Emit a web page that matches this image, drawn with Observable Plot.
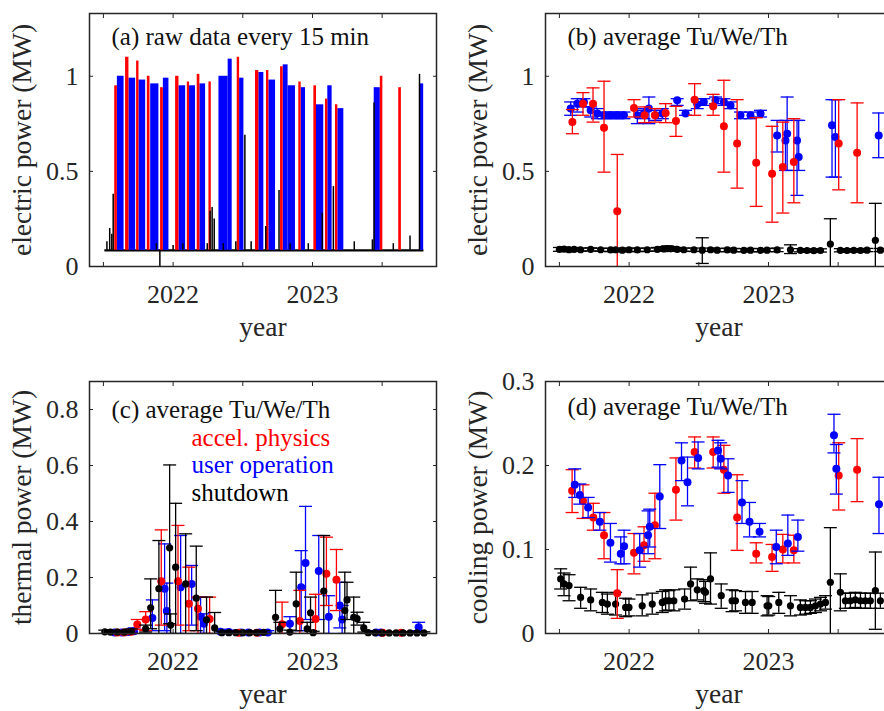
<!DOCTYPE html>
<html><head><meta charset="utf-8">
<script src="https://cdn.jsdelivr.net/npm/d3@7"></script>
<script src="https://cdn.jsdelivr.net/npm/@observablehq/plot@0.6"></script>
<style>
html,body{margin:0;padding:0;background:#fff;}
#fig{position:relative;width:884px;height:711px;overflow:hidden;background:#fff;}
#fig > svg{position:absolute;}
</style></head><body><div id="fig"></div>
<script>
// ---------- axes / labels ----------
const yearTicks = [2021.5, 2022, 2022.5, 2023, 2023.5];
const yearLabels = [2022, 2023];
const ticksElectric = [0, 0.5, 1];
const ticksThermal = [0, 0.2, 0.4, 0.6, 0.8];
const ticksCooling = [0, 0.1, 0.2, 0.3];
const titleA = "(a) raw data every 15 min";
const titleB = "(b) average Tu/We/Th";
const titleC = "(c) average Tu/We/Th";
const titleD = "(d) average Tu/We/Th";
const legendLabels = ["accel. physics", "user operation", "shutdown"];
const ylabelElectric = "electric power (MW)";
const ylabelThermal = "thermal power (MW)";
const ylabelCooling = "cooling power (MW)";
const xlabel = "year";

// ---------- (a) raw data: operation blocks [start, end, peak, mode] ----------
const rawBase = 0.085;
const rawSpan = [2021.51, 2023.80];
const rawBlocks = [
 [2021.581, 2021.600, 0.95, "accel"], [2021.600, 2021.648, 1.00, "user"],
 [2021.659, 2021.683, 1.10, "accel"], [2021.683, 2021.731, 0.99, "user"],
 [2021.738, 2021.755, 1.08, "accel"], [2021.755, 2021.803, 0.98, "user"],
 [2021.815, 2021.834, 1.00, "accel"], [2021.839, 2021.898, 0.96, "user"],
 [2021.910, 2021.930, 0.94, "accel"], [2021.930, 2021.970, 0.99, "user"],
 [2022.018, 2022.042, 1.00, "accel"], [2022.042, 2022.090, 0.95, "user"],
 [2022.102, 2022.118, 0.97, "accel"], [2022.118, 2022.161, 0.95, "user"],
 [2022.173, 2022.192, 1.01, "accel"], [2022.192, 2022.233, 0.96, "user"],
 [2022.257, 2022.274, 0.97, "accel"], [2022.329, 2022.395, 1.00, "user"],
 [2022.395, 2022.424, 1.09, "user"],  [2022.460, 2022.477, 1.10, "accel"],
 [2022.477, 2022.508, 0.99, "user"],  [2022.591, 2022.615, 1.03, "accel"],
 [2022.615, 2022.651, 1.02, "user"],  [2022.670, 2022.687, 1.03, "accel"],
 [2022.687, 2022.735, 0.98, "user"],  [2022.771, 2022.790, 1.05, "accel"],
 [2022.790, 2022.825, 1.06, "user"],  [2022.825, 2022.878, 0.95, "user"],
 [2022.902, 2022.919, 0.97, "accel"], [2022.919, 2022.950, 0.94, "user"],
 [2023.010, 2023.029, 0.95, "accel"], [2023.029, 2023.081, 0.85, "user"],
 [2023.093, 2023.110, 0.88, "accel"], [2023.110, 2023.141, 0.95, "user"],
 [2023.165, 2023.182, 0.85, "accel"], [2023.182, 2023.225, 0.83, "user"],
 [2023.443, 2023.487, 0.94, "user"],  [2023.487, 2023.505, 1.00, "accel"],
 [2023.619, 2023.638, 0.94, "accel"], [2023.772, 2023.798, 0.96, "user"]
];
// shutdown spikes [time, value]
const rawSpikes = [
 [2021.525, 0.13], [2021.545, 0.20], [2021.560, 0.17], [2021.570, 0.38], [2021.880, 0.12],
 [2021.905, 0.00], [2022.000, 0.11], [2022.070, 0.12], [2022.245, 0.12], [2022.265, 0.29],
 [2022.280, 0.31], [2022.295, 0.25], [2022.360, 0.12], [2022.450, 0.13], [2022.515, 0.69],
 [2022.560, 0.13], [2022.665, 0.21], [2022.760, 0.40], [2022.840, 0.12], [2022.970, 0.12],
 [2023.070, 0.28], [2023.150, 0.42], [2023.300, 0.13], [2023.430, 0.14], [2023.442, 0.86],
 [2023.580, 0.12], [2023.700, 0.16], [2023.768, 1.01]
];

// ---------- (b) electric, averages [time, value, low, high] ----------
const bAccel = [
 [2021.593, 0.759, 0.698, 0.825], [2021.669, 0.856, 0.795, 0.914], [2021.741, 0.856, 0.759, 0.939],
 [2021.820, 0.730, 0.496, 0.974], [2021.915, 0.291, -0.05, 0.589], [2022.035, 0.833, 0.786, 0.877],
 [2022.111, 0.795, 0.756, 0.839], [2022.185, 0.795, 0.759, 0.830], [2022.262, 0.807, 0.756, 0.856],
 [2022.336, 0.765, 0.684, 0.842], [2022.470, 0.877, 0.795, 0.961], [2022.603, 0.842, 0.795, 0.905],
 [2022.680, 0.737, 0.496, 0.979], [2022.775, 0.646, 0.412, 0.877], [2022.912, 0.546, 0.316, 0.782],
 [2023.026, 0.488, 0.233, 0.737], [2023.103, 0.523, 0.281, 0.759], [2023.182, 0.549, 0.335, 0.777],
 [2023.504, 0.646, 0.403, 0.877], [2023.636, 0.598, 0.335, 0.860]
];
const bUser = [
 [2021.581, 0.830, 0.795, 0.865], [2021.628, 0.856, 0.812, 0.882], [2021.676, 0.865, 0.839, 0.882],
 [2021.724, 0.821, 0.786, 0.839], [2021.772, 0.804, 0.777, 0.830], [2021.820, 0.795, 0.777, 0.812],
 [2021.867, 0.795, 0.777, 0.812], [2021.915, 0.795, 0.777, 0.812], [2021.963, 0.795, 0.777, 0.812],
 [2022.059, 0.795, 0.751, 0.821], [2022.106, 0.804, 0.777, 0.830], [2022.142, 0.830, 0.751, 0.891],
 [2022.190, 0.795, 0.768, 0.821], [2022.238, 0.804, 0.777, 0.830], [2022.345, 0.874, 0.847, 0.882],
 [2022.405, 0.804, 0.795, 0.821], [2022.489, 0.853, 0.830, 0.882], [2022.536, 0.865, 0.847, 0.882],
 [2022.620, 0.874, 0.856, 0.891], [2022.680, 0.865, 0.847, 0.882], [2022.728, 0.847, 0.830, 0.865],
 [2022.799, 0.795, 0.777, 0.812], [2022.871, 0.795, 0.777, 0.812], [2022.943, 0.804, 0.786, 0.821],
 [2023.062, 0.689, 0.602, 0.768], [2023.122, 0.663, 0.505, 0.768], [2023.134, 0.698, 0.505, 0.891],
 [2023.205, 0.663, 0.374, 0.768], [2023.217, 0.575, 0.505, 0.768], [2023.456, 0.742, 0.470, 0.877],
 [2023.480, 0.681, 0.470, 0.877], [2023.791, 0.689, 0.572, 0.807]
];
const bShutdown = [
 [2021.500, 0.090, 0.080, 0.100], [2021.533, 0.092, 0.082, 0.102], [2021.569, 0.088, 0.078, 0.098],
 [2021.605, 0.090, 0.080, 0.100], [2021.652, 0.088, 0.080, 0.097], [2021.724, 0.090, 0.082, 0.098],
 [2021.796, 0.088, 0.080, 0.096], [2021.867, 0.087, 0.078, 0.096], [2021.903, 0.088, 0.079, 0.097],
 [2021.951, 0.086, 0.077, 0.095], [2021.999, 0.088, 0.079, 0.097], [2022.059, 0.087, 0.078, 0.096],
 [2022.130, 0.088, 0.080, 0.097], [2022.202, 0.090, 0.081, 0.100], [2022.250, 0.092, 0.082, 0.104],
 [2022.274, 0.094, 0.082, 0.108], [2022.298, 0.093, 0.082, 0.105], [2022.345, 0.090, 0.081, 0.100],
 [2022.393, 0.088, 0.080, 0.097], [2022.465, 0.088, 0.079, 0.097], [2022.525, 0.086, 0.016, 0.151],
 [2022.584, 0.088, 0.080, 0.097], [2022.632, 0.086, 0.078, 0.095], [2022.704, 0.087, 0.078, 0.096],
 [2022.751, 0.086, 0.078, 0.095], [2022.823, 0.085, 0.077, 0.094], [2022.871, 0.086, 0.078, 0.095],
 [2022.943, 0.085, 0.077, 0.094], [2022.990, 0.086, 0.078, 0.095], [2023.062, 0.087, 0.078, 0.097],
 [2023.158, 0.088, 0.068, 0.114], [2023.229, 0.085, 0.077, 0.094], [2023.277, 0.084, 0.076, 0.093],
 [2023.325, 0.083, 0.075, 0.092], [2023.373, 0.084, 0.076, 0.093], [2023.444, 0.118, -0.02, 0.251],
 [2023.516, 0.085, 0.077, 0.094], [2023.564, 0.084, 0.076, 0.093], [2023.612, 0.085, 0.077, 0.094],
 [2023.660, 0.084, 0.076, 0.093], [2023.707, 0.086, 0.078, 0.095], [2023.767, 0.138, -0.02, 0.332],
 [2023.803, 0.086, 0.078, 0.095]
];

// ---------- (c) thermal ----------
const cAccel = [
 [2021.600, 0.004, 0.000, 0.010], [2021.650, 0.004, 0.000, 0.010], [2021.700, 0.006, 0.000, 0.014],
 [2021.743, 0.032, 0.015, 0.050], [2021.803, 0.050, 0.010, 0.078], [2021.915, 0.187, 0.030, 0.370],
 [2022.035, 0.187, 0.030, 0.386], [2022.113, 0.106, 0.010, 0.237], [2022.178, 0.088, 0.000, 0.130],
 [2022.262, 0.052, 0.000, 0.130], [2022.470, 0.003, 0.000, 0.008], [2022.600, 0.003, 0.000, 0.008],
 [2022.782, 0.033, 0.000, 0.112], [2022.909, 0.045, 0.000, 0.154], [2023.022, 0.052, 0.000, 0.140],
 [2023.100, 0.213, 0.100, 0.344], [2023.172, 0.192, 0.082, 0.300], [2023.504, 0.003, 0.000, 0.007],
 [2023.636, 0.003, 0.000, 0.007]
];
const cUser = [
 [2021.580, 0.004, 0.000, 0.010], [2021.630, 0.004, 0.000, 0.010], [2021.680, 0.005, 0.000, 0.012],
 [2021.720, 0.008, 0.000, 0.020], [2021.851, 0.055, 0.010, 0.120], [2021.939, 0.160, 0.010, 0.320],
 [2021.955, 0.080, 0.000, 0.180], [2022.054, 0.165, 0.000, 0.350], [2022.133, 0.177, 0.030, 0.243],
 [2022.197, 0.060, 0.000, 0.130], [2022.221, 0.035, 0.000, 0.070], [2022.340, 0.006, 0.000, 0.015],
 [2022.400, 0.005, 0.000, 0.012], [2022.490, 0.004, 0.000, 0.010], [2022.540, 0.004, 0.000, 0.010],
 [2022.620, 0.004, 0.000, 0.010], [2022.680, 0.004, 0.000, 0.010], [2022.838, 0.035, 0.000, 0.060],
 [2022.919, 0.165, 0.010, 0.296], [2022.950, 0.252, 0.050, 0.454], [2023.045, 0.223, 0.050, 0.350],
 [2023.117, 0.060, 0.000, 0.135], [2023.196, 0.100, 0.020, 0.183], [2023.213, 0.050, 0.000, 0.100],
 [2023.456, 0.004, 0.000, 0.010], [2023.490, 0.004, 0.000, 0.010], [2023.762, 0.022, 0.010, 0.040]
];
const cShutdown = [
 [2021.510, 0.006, 0.000, 0.012], [2021.550, 0.005, 0.000, 0.011], [2021.600, 0.005, 0.000, 0.010],
 [2021.650, 0.005, 0.000, 0.010], [2021.700, 0.008, 0.000, 0.016], [2021.803, 0.017, 0.005, 0.030],
 [2021.839, 0.092, 0.017, 0.195], [2021.898, 0.160, 0.000, 0.332], [2021.975, 0.306, 0.035, 0.602],
 [2021.982, 0.030, 0.000, 0.070], [2022.018, 0.237, 0.000, 0.465], [2022.090, 0.177, 0.000, 0.356],
 [2022.166, 0.126, 0.010, 0.312], [2022.240, 0.049, 0.000, 0.130], [2022.298, 0.020, 0.000, 0.075],
 [2022.350, 0.003, 0.000, 0.008], [2022.400, 0.003, 0.000, 0.008], [2022.450, 0.003, 0.000, 0.008],
 [2022.500, 0.003, 0.000, 0.008], [2022.550, 0.003, 0.000, 0.008], [2022.600, 0.003, 0.000, 0.008],
 [2022.650, 0.004, 0.000, 0.010], [2022.735, 0.058, 0.000, 0.154], [2022.766, 0.017, 0.000, 0.040],
 [2022.838, 0.005, 0.000, 0.012], [2022.883, 0.106, 0.010, 0.219], [2022.962, 0.017, 0.000, 0.040],
 [2022.986, 0.074, 0.010, 0.130], [2023.005, 0.003, 0.000, 0.008], [2023.081, 0.151, 0.000, 0.350],
 [2023.232, 0.082, 0.000, 0.219], [2023.248, 0.120, 0.050, 0.183], [2023.296, 0.058, 0.000, 0.130],
 [2023.320, 0.053, 0.030, 0.076], [2023.368, 0.020, 0.005, 0.040], [2023.400, 0.003, 0.000, 0.008],
 [2023.450, 0.003, 0.000, 0.008], [2023.500, 0.002, 0.000, 0.006], [2023.550, 0.002, 0.000, 0.006],
 [2023.600, 0.002, 0.000, 0.006], [2023.650, 0.002, 0.000, 0.006], [2023.700, 0.002, 0.000, 0.006],
 [2023.750, 0.002, 0.000, 0.006], [2023.800, 0.002, 0.000, 0.006]
];

// ---------- (d) cooling ----------
const dAccel = [
 [2021.591, 0.170, 0.144, 0.195], [2021.669, 0.158, 0.137, 0.177], [2021.743, 0.138, 0.123, 0.155],
 [2021.820, 0.117, 0.089, 0.144], [2021.915, 0.048, 0.018, 0.076], [2022.035, 0.096, 0.071, 0.119],
 [2022.107, 0.105, 0.086, 0.127], [2022.185, 0.129, 0.089, 0.167], [2022.336, 0.171, 0.135, 0.209],
 [2022.470, 0.216, 0.197, 0.234], [2022.603, 0.216, 0.197, 0.234], [2022.680, 0.195, 0.167, 0.224],
 [2022.775, 0.138, 0.099, 0.189], [2022.912, 0.095, 0.084, 0.108], [2023.026, 0.091, 0.074, 0.106],
 [2023.103, 0.100, 0.084, 0.118], [2023.182, 0.099, 0.084, 0.117], [2023.504, 0.188, 0.147, 0.227],
 [2023.636, 0.195, 0.157, 0.232]
];
const dUser = [
 [2021.610, 0.177, 0.162, 0.196], [2021.646, 0.165, 0.154, 0.178], [2021.706, 0.150, 0.138, 0.162],
 [2021.790, 0.133, 0.123, 0.144], [2021.866, 0.108, 0.085, 0.131], [2021.940, 0.095, 0.083, 0.115],
 [2021.964, 0.104, 0.083, 0.123], [2022.076, 0.099, 0.079, 0.119], [2022.136, 0.117, 0.095, 0.146],
 [2022.148, 0.127, 0.103, 0.148], [2022.220, 0.163, 0.125, 0.201], [2022.376, 0.206, 0.182, 0.227],
 [2022.419, 0.180, 0.152, 0.210], [2022.495, 0.209, 0.196, 0.228], [2022.638, 0.218, 0.198, 0.230],
 [2022.657, 0.208, 0.196, 0.227], [2022.710, 0.188, 0.168, 0.208], [2022.810, 0.156, 0.131, 0.182],
 [2022.864, 0.133, 0.115, 0.156], [2022.936, 0.121, 0.115, 0.131], [2023.056, 0.103, 0.083, 0.123],
 [2023.139, 0.107, 0.093, 0.141], [2023.211, 0.115, 0.098, 0.135], [2023.470, 0.236, 0.215, 0.261],
 [2023.487, 0.196, 0.166, 0.225], [2023.793, 0.154, 0.119, 0.186]
];
const dShutdown = [
 [2021.509, 0.065, 0.053, 0.077], [2021.533, 0.059, 0.045, 0.072], [2021.569, 0.057, 0.039, 0.070],
 [2021.652, 0.043, 0.030, 0.055], [2021.724, 0.040, 0.027, 0.053], [2021.808, 0.037, 0.025, 0.049],
 [2021.844, 0.035, 0.023, 0.047], [2021.903, 0.035, 0.022, 0.049], [2021.975, 0.031, 0.020, 0.042],
 [2021.999, 0.031, 0.021, 0.041], [2022.094, 0.033, 0.021, 0.046], [2022.166, 0.035, 0.023, 0.048],
 [2022.238, 0.037, 0.025, 0.050], [2022.262, 0.039, 0.027, 0.052], [2022.286, 0.039, 0.028, 0.051],
 [2022.321, 0.039, 0.027, 0.052], [2022.398, 0.041, 0.029, 0.053], [2022.441, 0.059, 0.039, 0.079],
 [2022.489, 0.052, 0.040, 0.065], [2022.536, 0.051, 0.038, 0.064], [2022.548, 0.049, 0.036, 0.062],
 [2022.584, 0.065, 0.035, 0.096], [2022.661, 0.045, 0.030, 0.059], [2022.739, 0.039, 0.026, 0.052],
 [2022.763, 0.039, 0.027, 0.051], [2022.835, 0.037, 0.024, 0.050], [2022.883, 0.037, 0.024, 0.050],
 [2022.990, 0.033, 0.021, 0.045], [2023.002, 0.033, 0.022, 0.044], [2023.074, 0.037, 0.024, 0.049],
 [2023.158, 0.033, 0.021, 0.045], [2023.229, 0.031, 0.022, 0.040], [2023.265, 0.031, 0.023, 0.039],
 [2023.301, 0.031, 0.024, 0.039], [2023.337, 0.033, 0.025, 0.041], [2023.373, 0.035, 0.027, 0.043],
 [2023.409, 0.037, 0.029, 0.045], [2023.444, 0.061, -0.010, 0.126], [2023.516, 0.049, 0.027, 0.071],
 [2023.552, 0.039, 0.030, 0.048], [2023.588, 0.039, 0.030, 0.048], [2023.623, 0.040, 0.031, 0.049],
 [2023.660, 0.039, 0.030, 0.048], [2023.695, 0.039, 0.030, 0.048], [2023.731, 0.039, 0.030, 0.048],
 [2023.767, 0.051, 0.005, 0.097], [2023.803, 0.039, 0.030, 0.048]
];

// ---------- styling ----------
const FONT = "'Liberation Serif', 'Times New Roman', serif";
const AX = "#262626";
const RED = "#ff0000", BLUE = "#0000ff", BLACK = "#000000";
const xDomain = [2021.40, 2023.89];

const capSymbol = {draw(ctx, size) { const w = Math.sqrt(size / Math.PI); ctx.moveTo(-w, 0); ctx.lineTo(w, 0); }};
const rows = arr => arr.map(([t, v, lo, hi]) => ({t, v, lo, hi}));

function errMarks(arr, color, r = 4) {
  const data = rows(arr);
  return [
    Plot.ruleX(data, {x: "t", y1: "lo", y2: "hi", stroke: color, strokeWidth: 1.3, clip: true}),
    Plot.dot(data, {x: "t", y: "lo", r: 6.5, symbol: capSymbol, stroke: color, fill: "none", strokeWidth: 1.3, clip: true}),
    Plot.dot(data, {x: "t", y: "hi", r: 6.5, symbol: capSymbol, stroke: color, fill: "none", strokeWidth: 1.3, clip: true}),
    Plot.dot(data, {x: "t", y: "v", r, fill: color, stroke: "none"})
  ];
}

function panel({left, top, height, marginTop, marginBottom, yDomain, yTicks, ylabel, title, titleDy, marks, extra = []}) {
  const svg = Plot.plot({
    width: 442, height, marginLeft: 89, marginRight: 6, marginTop, marginBottom,
    x: {domain: xDomain, label: null},
    y: {domain: yDomain, label: null},
    style: {fontFamily: FONT, fontSize: "25px", color: AX, background: "transparent", overflow: "visible"},
    marks: [
      ...marks,
      Plot.frame({stroke: AX, strokeWidth: 1.5}),
      Plot.axisX({anchor: "bottom", ticks: yearTicks, tickSize: 4, dy: -4, tickFormat: () => "", label: null, stroke: AX}),
      Plot.axisX({anchor: "top", ticks: yearTicks, tickSize: 4, dy: 4, tickFormat: () => "", label: null, stroke: AX}),
      Plot.axisY({anchor: "left", ticks: yTicks, tickSize: 4, dx: 4, tickFormat: () => "", label: null, stroke: AX}),
      Plot.axisY({anchor: "right", ticks: yTicks, tickSize: 4, dx: -4, tickFormat: () => "", label: null, stroke: AX}),
      Plot.axisX({anchor: "bottom", ticks: yearLabels, tickSize: 0, tickPadding: 18, tickFormat: d => String(d), label: null, fill: AX, fontSize: 26}),
      Plot.axisY({anchor: "left", ticks: yTicks, tickSize: 0, tickPadding: 11, tickFormat: d => String(d), label: null, fill: AX, fontSize: 26}),
      Plot.text([xlabel], {text: d => d, frameAnchor: "bottom", dy: 61, textAnchor: "middle", lineAnchor: "middle", fill: AX, fontSize: 27.5}),
      Plot.text([ylabel], {text: d => d, frameAnchor: "left", dx: -67, rotate: -90, textAnchor: "middle", lineAnchor: "middle", fill: AX, fontSize: 27.5}),
      Plot.text([title], {text: d => d, frameAnchor: "top-left", dx: 22, dy: titleDy, textAnchor: "start", lineAnchor: "middle", fill: "#111"}),
      ...extra
    ]
  });
  svg.style.left = left + "px";
  svg.style.top = top + "px";
  document.getElementById("fig").appendChild(svg);
}

// (a)
const rawRows = rawBlocks.map(([t0, t1, peak, mode]) => ({t0, t1, peak, mode, base: rawBase}));
const spikeRows = rawSpikes.map(([t, v]) => ({t, v, base: rawBase}));
panel({
  left: 0, top: 0, height: 350, marginTop: 13, marginBottom: 84,
  yDomain: [0, 1.33], yTicks: ticksElectric, ylabel: ylabelElectric, title: titleA, titleDy: 23,
  marks: [
    Plot.ruleY([{y: rawBase, x1: rawSpan[0], x2: rawSpan[1]}], {y: "y", x1: "x1", x2: "x2", stroke: BLACK, strokeWidth: 2.2}),
    Plot.rectY(rawRows.filter(d => d.mode === "user"), {x1: "t0", x2: "t1", y1: "base", y2: "peak", fill: BLUE}),
    Plot.rectY(rawRows.filter(d => d.mode === "accel"), {x1: "t0", x2: "t1", y1: "base", y2: "peak", fill: RED}),
    Plot.ruleX(spikeRows, {x: "t", y1: "base", y2: "v", stroke: BLACK, strokeWidth: 1.5})
  ]
});

// (b)
panel({
  left: 456, top: 0, height: 350, marginTop: 13, marginBottom: 84,
  yDomain: [0, 1.33], yTicks: ticksElectric, ylabel: ylabelElectric, title: titleB, titleDy: 23,
  marks: [...errMarks(bUser, BLUE), ...errMarks(bAccel, RED), ...errMarks(bShutdown, BLACK, 3.6)]
});

// (c)
panel({
  left: 0, top: 350, height: 361, marginTop: 31, marginBottom: 78,
  yDomain: [0, 0.9], yTicks: ticksThermal, ylabel: ylabelThermal, title: titleC, titleDy: 28,
  marks: [...errMarks(cUser, BLUE), ...errMarks(cAccel, RED), ...errMarks(cShutdown, BLACK, 3.6)],
  extra: [
    Plot.text([legendLabels[0]], {text: d => d, frameAnchor: "top-left", dx: 102, dy: 56, textAnchor: "start", lineAnchor: "middle", fill: RED}),
    Plot.text([legendLabels[1]], {text: d => d, frameAnchor: "top-left", dx: 102, dy: 83, textAnchor: "start", lineAnchor: "middle", fill: BLUE}),
    Plot.text([legendLabels[2]], {text: d => d, frameAnchor: "top-left", dx: 102, dy: 111, textAnchor: "start", lineAnchor: "middle", fill: BLACK})
  ]
});

// (d)
panel({
  left: 456, top: 350, height: 361, marginTop: 31, marginBottom: 78,
  yDomain: [0, 0.3], yTicks: ticksCooling, ylabel: ylabelCooling, title: titleD, titleDy: 25,
  marks: [...errMarks(dShutdown, BLACK, 3.6), ...errMarks(dAccel, RED), ...errMarks(dUser, BLUE)]
});
</script></body></html>
